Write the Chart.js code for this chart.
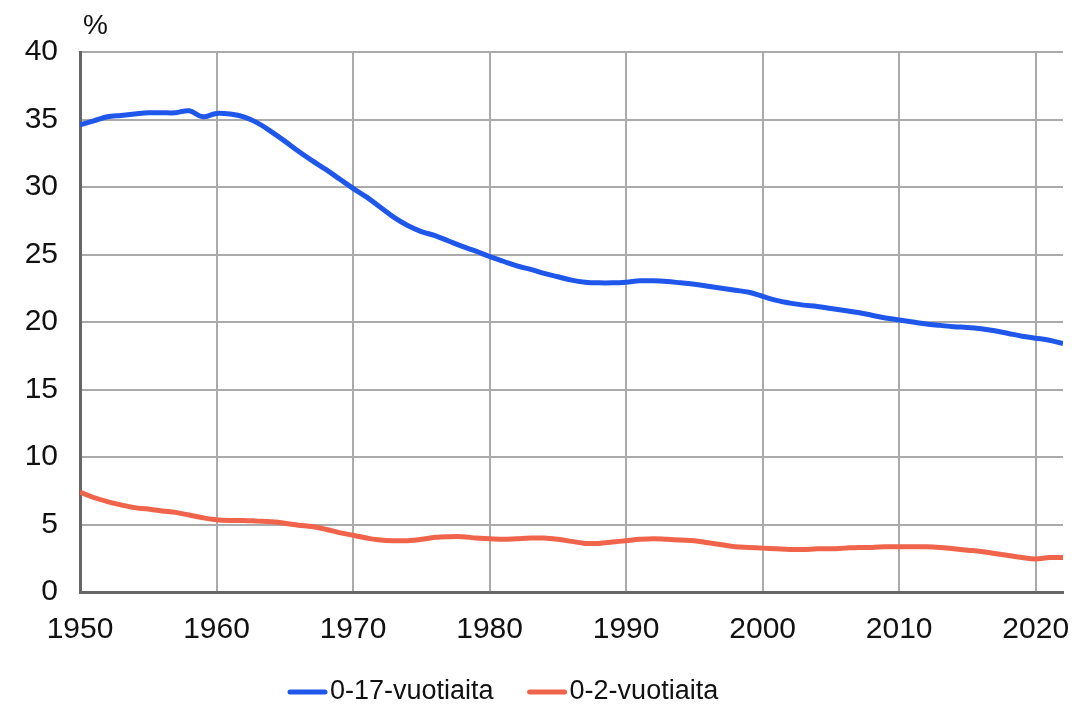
<!DOCTYPE html>
<html>
<head>
<meta charset="utf-8">
<script src="https://cdn.jsdelivr.net/npm/chart.js@4.4.1/dist/chart.umd.min.js"></script>
<style>
  html, body { margin: 0; padding: 0; background: #fff; }
  canvas { display: block; }
</style>
</head>
<body>
<canvas id="chart" width="1081" height="707"></canvas>
<script>
// Years on the x axis
const years = [
  1950, 1951, 1952, 1953, 1954, 1955, 1956, 1957, 1958, 1959,
  1960, 1961, 1962, 1963, 1964, 1965, 1966, 1967, 1968, 1969,
  1970, 1971, 1972, 1973, 1974, 1975, 1976, 1977, 1978, 1979,
  1980, 1981, 1982, 1983, 1984, 1985, 1986, 1987, 1988, 1989,
  1990, 1991, 1992, 1993, 1994, 1995, 1996, 1997, 1998, 1999,
  2000, 2001, 2002, 2003, 2004, 2005, 2006, 2007, 2008, 2009,
  2010, 2011, 2012, 2013, 2014, 2015, 2016, 2017, 2018, 2019,
  2020, 2021, 2022
];

// Share of 0-17 year olds (%)
const share0to17 = [
  34.6, 34.9, 35.2, 35.3, 35.4, 35.5, 35.5, 35.5, 35.65, 35.2,
  35.45, 35.4, 35.2, 34.75, 34.1, 33.4, 32.65, 31.95, 31.3, 30.6,
  29.9, 29.25, 28.5, 27.75, 27.15, 26.7, 26.4, 26.0, 25.6, 25.25,
  24.85, 24.5, 24.15, 23.9, 23.6, 23.35, 23.1, 22.95, 22.9, 22.9,
  22.95, 23.05, 23.05, 23.0, 22.9, 22.8, 22.65, 22.5, 22.35, 22.2,
  21.9, 21.6, 21.4, 21.25, 21.15, 21.0, 20.85, 20.7, 20.5, 20.3,
  20.15, 20.0, 19.85, 19.75, 19.65, 19.6, 19.5, 19.35, 19.15, 18.95,
  18.8, 18.65, 18.4
];

// Share of 0-2 year olds (%)
const share0to2 = [
  7.4, 7.0, 6.7, 6.45, 6.25, 6.15, 6.0, 5.9, 5.7, 5.5,
  5.35, 5.3, 5.3, 5.25, 5.2, 5.1, 4.95, 4.85, 4.65, 4.4,
  4.2, 4.0, 3.85, 3.8, 3.8, 3.9, 4.05, 4.1, 4.1, 4.0,
  3.95, 3.9, 3.95, 4.0, 4.0, 3.9, 3.75, 3.6, 3.6, 3.7,
  3.8, 3.9, 3.95, 3.9, 3.85, 3.8, 3.65, 3.5, 3.35, 3.3,
  3.25, 3.2, 3.15, 3.15, 3.2, 3.2, 3.25, 3.3, 3.3, 3.35,
  3.35, 3.35, 3.35, 3.3, 3.2, 3.1, 3.0, 2.85, 2.7, 2.55,
  2.45, 2.55, 2.55
];

const seriesLabels = ['0-17-vuotiaita', '0-2-vuotiaita'];
const seriesColors = ['#1f57ea', '#f0644c'];

const FONT = '"Liberation Sans", Arial, sans-serif';

// Pair each value with its year
function toPoints(values) {
    return years.map((year, i) => ({ x: year, y: values[i] }));
}

// Draws the "%" unit label and the legend under the chart
const extrasPlugin = {
    id: 'extras',
    afterDraw(chart) {
        const ctx = chart.ctx;
        ctx.save();
        ctx.fillStyle = '#111';
        ctx.font = '28px ' + FONT;
        ctx.textBaseline = 'alphabetic';
        ctx.textAlign = 'left';
        ctx.fillText('%', chart.chartArea.left + 3, 34);

        // Legend
        ctx.font = '27px ' + FONT;
        ctx.textBaseline = 'middle';
        let x = 290;
        const y = 692;
        chart.data.datasets.forEach(ds => {
            ctx.strokeStyle = ds.borderColor;
            ctx.lineWidth = 5;
            ctx.lineCap = 'round';
            ctx.beginPath();
            ctx.moveTo(x, y);
            ctx.lineTo(x + 35, y);
            ctx.stroke();
            ctx.fillStyle = '#111';
            ctx.fillText(ds.label, x + 40, y);
            x += 40 + ctx.measureText(ds.label).width + 36;
        });
        ctx.restore();
    }
};

const chart = new Chart(document.getElementById('chart'), {
    type: 'line',
    data: {
        datasets: seriesLabels.map((label, i) => ({
            label: label,
            data: toPoints(i === 0 ? share0to17 : share0to2),
            borderColor: seriesColors[i],
            backgroundColor: seriesColors[i],
            borderWidth: 5,
            pointRadius: 0,
            tension: 0.35,
            fill: false
        }))
    },
    options: {
        responsive: false,
        animation: false,
        layout: {
            padding: { top: 52, right: 18, left: 0, bottom: 0 }
        },
        plugins: {
            legend: { display: false },
            tooltip: { enabled: false }
        },
        scales: {
            x: {
                type: 'linear',
                min: 1950,
                max: 2022,
                afterFit: scale => {
                    scale.height = 115;
                    // keep the plot reaching 2022 even though "2020" overhangs a bit
                    scale.paddingLeft = 0;
                    scale.paddingRight = 0;
                },
                afterBuildTicks: scale => {
                    scale.ticks = [1950, 1960, 1970, 1980, 1990, 2000, 2010, 2020].map(v => ({ value: v }));
                },
                grid: {
                    color: ctx => ctx.tick && ctx.tick.value === 1950 ? '#666' : '#aaaaaa',
                    lineWidth: 2,
                    drawTicks: false
                },
                border: { display: true, color: '#666', width: 3 },
                ticks: {
                    color: '#111',
                    font: { family: FONT, size: 30 },
                    padding: 20,
                    maxRotation: 0,
                    callback: v => String(v)
                }
            },
            y: {
                min: 0,
                max: 40,
                afterFit: scale => { scale.width = 80; },
                grid: {
                    color: ctx => ctx.tick && ctx.tick.value === 0 ? '#666' : '#aaaaaa',
                    lineWidth: 2,
                    drawTicks: false
                },
                border: { display: true, color: '#666', width: 3 },
                ticks: {
                    stepSize: 5,
                    color: '#111',
                    font: { family: FONT, size: 30 },
                    padding: 22
                }
            }
        }
    },
    plugins: [extrasPlugin]
});
</script>
</body>
</html>
